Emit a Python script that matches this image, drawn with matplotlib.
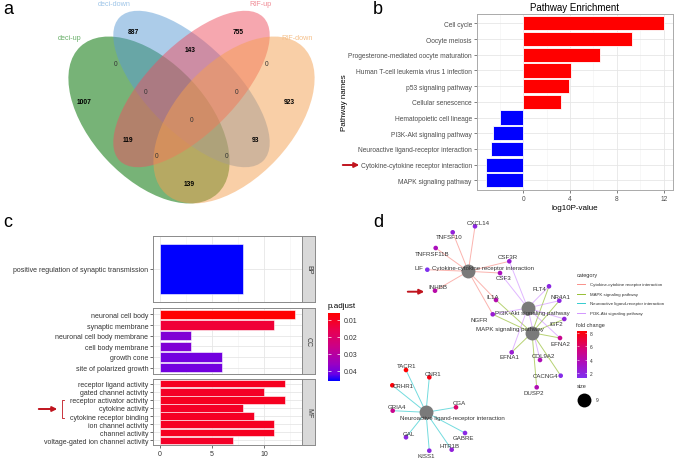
import numpy as np
import matplotlib.pyplot as plt
from matplotlib.patches import Ellipse
from matplotlib.colors import LinearSegmentedColormap, Normalize
from matplotlib.cm import ScalarMappable

plt.rcParams['font.family'] = ['Liberation Sans', 'DejaVu Sans']

W, H = 676, 460

# ---------------- data ----------------
# a: Venn diagram (A=deci-up, B=deci-down, C=RIF-up, D=RIF-down)
venn_sets = ['deci-up', 'deci-down', 'RIF-up', 'RIF-down']
venn_regions = ['A', 'B', 'C', 'D', 'AB', 'AC', 'AD', 'BC', 'BD', 'CD',
                'ABC', 'ABD', 'ACD', 'BCD', 'ABCD']
venn_counts = [1007, 887, 755, 923, 0, 119, 139, 143, 93, 0,
               0, 0, 0, 0, 0]

# b: KEGG pathway enrichment
pathways = ['Cell cycle', 'Oocyte meiosis', 'Progesterone-mediated oocyte maturation',
            'Human T-cell leukemia virus 1 infection', 'p53 signaling pathway',
            'Cellular senescence', 'Hematopoietic cell lineage', 'PI3K-Akt signaling pathway',
            'Neuroactive ligand-receptor interaction', 'Cytokine-cytokine receptor interaction',
            'MAPK signaling pathway']
log10p = [12.05, 9.3, 6.6, 4.05, 3.95, 3.25, -2.0, -2.6, -2.7, -3.2, -3.2]

# c: GO enrichment
bp_terms = ['positive regulation of synaptic transmission']
bp_counts = [8]
bp_padj = [0.0459]
cc_terms = ['neuronal cell body', 'synaptic membrane', 'neuronal cell body membrane',
            'cell body membrane', 'growth cone', 'site of polarized growth']
cc_counts = [13, 11, 3, 3, 6, 6]
cc_padj = [0.0059, 0.0128, 0.0390, 0.0390, 0.0405, 0.0405]
mf_terms = ['receptor ligand activity', 'gated channel activity', 'receptor activator activity',
            'cytokine activity', 'cytokine receptor binding', 'ion channel activity',
            'channel activity', 'voltage-gated ion channel activity']
mf_counts = [12, 10, 12, 8, 9, 11, 11, 7]
mf_padj = [0.0100, 0.0108, 0.0100, 0.0108, 0.0105, 0.0102, 0.0102, 0.0110]

# d: gene-pathway network
hubs = ['Cytokine-cytokine receptor interaction', 'MAPK signaling pathway',
        'Neuroactive ligand-receptor interaction', 'PI3K-Akt signaling pathway']
hub_x = [468.3, 532.0, 426.0, 527.7]
hub_y = [272.3, 333.7, 413.3, 309.0]
hub_lx = [483.0, 509.5, 452.7, 532.5]
hub_ly = [268.5, 330.0, 418.3, 313.3]

genes = ['CXCL14', 'TNFSF10', 'TNFRSF11B', 'LIF', 'CSF3R', 'CSF3', 'INHBB', 'IL1A', 'NGFR',
         'FLT4', 'NR4A1', 'IGF2', 'EFNA2', 'EFNA1', 'COL9A2', 'CACNG4', 'DUSP2',
         'TACR1', 'CNR1', 'CRHR1', 'GRIA4', 'CGA', 'GAL', 'GABRE', 'HTR1B', 'KISS1']
gene_x = [475.0, 452.7, 435.7, 427.3, 509.3, 500.0, 435.0, 496.0, 492.7,
          549.0, 559.3, 564.3, 560.0, 511.7, 540.0, 560.7, 536.7,
          406.0, 429.3, 392.3, 392.7, 456.0, 406.0, 465.0, 451.7, 429.3]
gene_y = [227.3, 233.3, 249.0, 270.7, 262.3, 274.0, 291.7, 301.0, 315.3,
          287.3, 301.7, 320.0, 339.0, 353.3, 361.0, 376.7, 388.3,
          371.0, 378.3, 386.3, 411.7, 408.3, 438.3, 434.0, 450.7, 451.7]
gene_lx = [478.3, 449.3, 431.7, 419.3, 507.7, 503.3, 438.3, 492.7, 479.3,
           539.3, 560.0, 556.0, 560.7, 509.0, 543.3, 546.0, 533.3,
           406.7, 432.7, 403.3, 397.3, 459.0, 409.0, 463.3, 449.3, 426.0]
gene_ly = [223.3, 237.3, 254.0, 268.3, 257.3, 279.0, 287.3, 297.7, 320.0,
           289.3, 297.7, 324.3, 344.0, 357.7, 356.0, 376.7, 393.3,
           366.7, 374.0, 386.3, 407.3, 403.3, 434.0, 438.7, 446.0, 456.7]
fold_change = [1.9, 2.2, 3.5, 1.2, 2.5, 3.5, 4.2, 4.0, 2.6,
               1.8, 1.9, 2.1, 5.0, 2.5, 3.7, 1.5, 3.8,
               8.4, 8.0, 8.2, 5.0, 6.0, 1.9, 1.7, 2.2, 1.8]

edges = {
    'Cytokine-cytokine receptor interaction': ['CXCL14', 'TNFSF10', 'TNFRSF11B', 'LIF', 'CSF3R',
                                               'CSF3', 'INHBB', 'IL1A', 'NGFR'],
    'MAPK signaling pathway': ['IL1A', 'NGFR', 'FLT4', 'NR4A1', 'IGF2', 'EFNA2', 'EFNA1',
                               'CACNG4', 'DUSP2'],
    'Neuroactive ligand-receptor interaction': ['TACR1', 'CNR1', 'CRHR1', 'GRIA4', 'CGA', 'GAL',
                                                'GABRE', 'HTR1B', 'KISS1'],
    'PI3K-Akt signaling pathway': ['CSF3R', 'CSF3', 'FLT4', 'NR4A1', 'IGF2', 'EFNA2', 'EFNA1',
                                   'COL9A2', 'NGFR'],
}


def rect(x0, y0, x1, y1):
    # pixel box (top-left origin) -> figure fraction
    return [x0 / W, 1 - y1 / H, (x1 - x0) / W, (y1 - y0) / H]


# ggplot-like red -> blue (Lab) gradient
padj_cmap = LinearSegmentedColormap.from_list(
    'rb', [(0, '#FF0000'), (0.25, '#E9004F'), (0.5, '#CA0088'),
           (0.75, '#9A00C2'), (0.9, '#6800E7'), (1, '#0000FF')])
fold_cmap = LinearSegmentedColormap.from_list(
    'fc', [(0, '#7F30EE'), (0.3, '#A80FC0'), (0.6, '#D2047E'), (1, '#FF0000')])

fig = plt.figure(figsize=(W / 100, H / 100), dpi=100)

# ---------------- a: Venn ----------------
axa = fig.add_axes(rect(0, 0, 338, 215))
axa.set_xlim(0, 338)
axa.set_ylim(215, 0)
axa.axis('off')
ell_specs = [((149, 121), 201, 116, 47, '#2E8B2E', 0.65),
             ((191.5, 90), 203, 88, 45, '#5B9BD5', 0.5),
             ((191.5, 90), 203, 88, -45, '#EE5060', 0.5),
             ((234, 121), 201, 116, -47, '#F5A050', 0.5)]
for (c, w, h, ang, col, al) in ell_specs:
    axa.add_patch(Ellipse(c, w, h, angle=ang, facecolor=col, alpha=al, edgecolor='none'))

region_pos = {'A': (84, 103), 'B': (133, 33), 'C': (238, 33), 'D': (289, 103),
              'AB': (116, 65), 'AC': (128, 141), 'AD': (189, 184), 'BC': (190, 50),
              'BD': (255, 141), 'CD': (267, 65), 'ABC': (146, 92), 'ABD': (227, 157),
              'ACD': (157, 157), 'BCD': (237, 92), 'ABCD': (192, 120)}
for reg, cnt in zip(venn_regions, venn_counts):
    x, y = region_pos[reg]
    axa.text(x, y, str(cnt), ha='center', va='center', fontsize=4.8,
             fontweight='bold' if cnt > 0 else 'normal',
             color='black' if cnt > 0 else '#333333')

set_label_pos = [(70, 38), (114, 4), (260, 4), (297, 38)]
set_label_col = ['#6AB06A', '#9EC5E8', '#F08A94', '#F5C08A']
for name, (x, y), col in zip(venn_sets, set_label_pos, set_label_col):
    axa.text(x, y, name, ha='center', va='center', fontsize=5.2, color=col)

# ---------------- b: pathway enrichment ----------------
axb = fig.add_axes(rect(476.7, 15, 673.3, 190.7))
yb = np.arange(len(pathways))
bcol = ['#FF0000' if v > 0 else '#0000FF' for v in log10p]
axb.barh(yb, log10p, height=0.9, color=bcol, edgecolor='white', lw=0.6, zorder=2)
axb.set_ylim(len(pathways) - 0.4, -0.6)
axb.set_xlim(-3.96, 12.81)
axb.set_yticks(yb, pathways)
axb.set_xticks([0, 4, 8, 12])
axb.set_xticks([-2, 2, 6, 10], minor=True)
axb.grid(which='major', color='#e6e6e6', lw=0.6, zorder=0)
axb.grid(which='minor', axis='x', color='#f2f2f2', lw=0.4, zorder=0)
axb.tick_params(which='major', labelsize=4.8, labelcolor='#4d4d4d', color='#4d4d4d',
                length=2, width=0.5, pad=1.5)
axb.tick_params(which='minor', length=0)
for s in axb.spines.values():
    s.set_color('#aaaaaa')
    s.set_linewidth(0.7)
axb.set_xlabel('log10P-value', fontsize=5.8, labelpad=2)
axb.set_title('Pathway Enrichment', fontsize=7, pad=3)
fig.text(345 / W, 1 - 103 / H, 'Pathway names', rotation=90, ha='center', va='center',
         fontsize=5.8)

# ---------------- c: GO facets ----------------
padj_norm = Normalize(0.0059, 0.0459)
facets = [('BP', bp_terms, bp_counts, bp_padj, 237, 303),
          ('CC', cc_terms, cc_counts, cc_padj, 309, 375),
          ('MF', mf_terms, mf_counts, mf_padj, 380, 446)]
for name, terms, counts, padj, top, bot in facets:
    ax = fig.add_axes(rect(153, top, 302, bot))
    yy = np.arange(len(terms))
    ax.barh(yy, counts, height=0.9, color=padj_cmap(padj_norm(padj)),
            edgecolor='white', lw=0.4, zorder=2)
    ax.set_ylim(len(terms) - 0.4, -0.6)
    ax.set_xlim(-0.65, 13.65)
    ax.set_yticks(yy, terms)
    ax.set_xticks([0, 5, 10])
    ax.set_xticks([2.5, 7.5, 12.5], minor=True)
    ax.grid(which='major', color='#e6e6e6', lw=0.6, zorder=0)
    ax.grid(which='minor', axis='x', color='#f2f2f2', lw=0.4, zorder=0)
    ax.tick_params(which='major', labelsize=5, labelcolor='#333333', color='#333333',
                   length=2, width=0.5, pad=1.5)
    ax.tick_params(which='minor', length=0)
    if name != 'MF':
        ax.tick_params(axis='x', labelbottom=False, length=0)
    for s in ax.spines.values():
        s.set_color('#8a8a8a')
        s.set_linewidth(0.7)
    axs = fig.add_axes(rect(302, top, 315, bot))
    axs.set_facecolor('#d9d9d9')
    axs.set_xticks([])
    axs.set_yticks([])
    for s in axs.spines.values():
        s.set_color('#8a8a8a')
        s.set_linewidth(0.7)
    axs.text(0.5, 0.5, name, rotation=-90, ha='center', va='center', fontsize=5,
             color='#333333', transform=axs.transAxes)

caxc = fig.add_axes(rect(328, 314, 340, 382))
cbc = fig.colorbar(ScalarMappable(padj_norm, padj_cmap), cax=caxc)
caxc.invert_yaxis()
cbc.set_ticks([0.01, 0.02, 0.03, 0.04])
cbc.outline.set_visible(False)
caxc.tick_params(labelsize=5, labelcolor='#333333', color='white', direction='in',
                 length=2, width=0.5, left=True, right=True, pad=3)
fig.text(328 / W, 1 - 307 / H, 'p.adjust', ha='left', va='center', fontsize=5.8)

# ---------------- d: network ----------------
axd = fig.add_axes(rect(340, 215, 676, 460))
axd.set_xlim(340, 676)
axd.set_ylim(460, 215)
axd.axis('off')
cat_colors = ['#F8766D', '#7CAE00', '#00BFC4', '#C77CFF']
gidx = {g: i for i, g in enumerate(genes)}
for hub, hx, hy, col in zip(hubs, hub_x, hub_y, cat_colors):
    for g in edges[hub]:
        i = gidx[g]
        axd.plot([hx, gene_x[i]], [hy, gene_y[i]], color=col, lw=0.7, alpha=0.55, zorder=1)

fold_norm = Normalize(min(fold_change), max(fold_change))
axd.scatter(gene_x, gene_y, s=11, c=fold_change, cmap=fold_cmap, norm=fold_norm,
            linewidths=0, zorder=3)
axd.scatter(hub_x, hub_y, s=100, color='#7a7a7a', linewidths=0, zorder=3)
for g, lx, ly in zip(genes, gene_lx, gene_ly):
    axd.text(lx, ly, g, ha='center', va='center', fontsize=4.4, color='#333333', zorder=4)
for h, lx, ly in zip(hubs, hub_lx, hub_ly):
    axd.text(lx, ly, h, ha='center', va='center', fontsize=4.4, color='#333333', zorder=4)

# legends
axd.text(576.5, 275, 'category', ha='left', va='center', fontsize=4, color='#333333')
for k, (h, col) in enumerate(zip(hubs, cat_colors)):
    yk = 285 + k * 9.7
    axd.plot([576.7, 585], [yk, yk], color=col, lw=0.7, alpha=0.8)
    axd.text(590, yk, h, ha='left', va='center', fontsize=3.2, color='#333333')
axd.text(576.5, 326, 'fold change', ha='left', va='center', fontsize=4, color='#333333')
axd.text(576.5, 386, 'size', ha='left', va='center', fontsize=4, color='#333333')
axd.scatter([584.3], [400.7], s=100, color='black', linewidths=0)
axd.text(596, 400.7, '9', ha='left', va='center', fontsize=3.5, color='#333333')

caxd = fig.add_axes(rect(576.7, 331.7, 586.7, 379))
cbd = fig.colorbar(ScalarMappable(fold_norm, fold_cmap), cax=caxd)
cbd.set_ticks([2, 4, 6, 8])
cbd.outline.set_visible(False)
caxd.tick_params(labelsize=3.5, labelcolor='#333333', color='white', direction='in',
                 length=1.5, width=0.4, left=True, right=True, pad=2)

# ---------------- overlay: panel letters, arrows ----------------
ov = fig.add_axes([0, 0, 1, 1], facecolor='none')
ov.set_xlim(0, W)
ov.set_ylim(H, 0)
ov.axis('off')
for letter, (x, y) in zip('abcd', [(3, 10), (373, 10), (3, 223), (373, 223)]):
    ov.text(x, y, letter, ha='left', va='center', fontsize=13)
arrow_kw = dict(arrowstyle='-|>', color='#C0141E', lw=1.4, mutation_scale=7)
ov.annotate('', xy=(362, 166), xytext=(340, 166), arrowprops=arrow_kw)
ov.annotate('', xy=(60, 410), xytext=(36, 410), arrowprops=arrow_kw)
ov.annotate('', xy=(427, 292.7), xytext=(405, 292.7), arrowprops=arrow_kw)
ov.plot([64, 62, 62, 64], [401, 401, 419, 419], color='#C0141E', lw=0.6)

fig.savefig('out.png', dpi=100)
